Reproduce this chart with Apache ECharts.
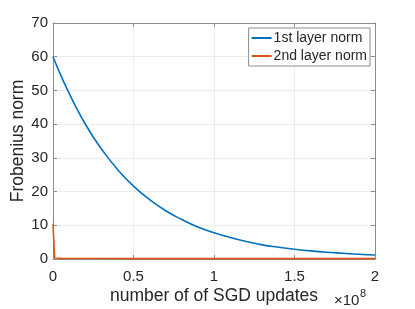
<!DOCTYPE html>
<html>
<head>
<meta charset="utf-8">
<script src="https://cdn.jsdelivr.net/npm/echarts@6/dist/echarts.min.js"></script>
<style>html,body{margin:0;padding:0;background:#fff}#c{width:415px;height:309px}</style>
</head>
<body>
<div id="c"></div>
<script>
// x in units of 1e8 SGD updates
var layer1X = [0, 0.05, 0.1, 0.15, 0.2, 0.25, 0.3, 0.4, 0.5, 0.6, 0.7, 0.8, 0.9, 1.0, 1.1, 1.2, 1.3, 1.4, 1.5, 1.6, 1.7, 1.8, 1.9, 2.0];
var layer1Y = [60, 54.3, 49.2, 44.4, 40.1, 36.2, 32.7, 26.6, 21.6, 17.6, 14.3, 11.7, 9.5, 7.8, 6.4, 5.2, 4.2, 3.5, 2.9, 2.4, 2.0, 1.7, 1.4, 1.2];
var layer2X = [0, 0.01, 0.05, 0.2, 0.5, 1.0, 1.5, 2.0];
var layer2Y = [10.5, 0.3, 0.2, 0.15, 0.12, 0.1, 0.1, 0.1];
var xTicks = [0, 0.5, 1, 1.5, 2];
var yTicks = [0, 10, 20, 30, 40, 50, 60, 70];
var seriesNames = ['1st layer norm', '2nd layer norm'];

function pairs(xs, ys) { return xs.map(function (x, i) { return [x, ys[i]]; }); }

var axisCol = '#8c8c8c';
var textCol = '#262626';
var font = 'Liberation Sans, Arial, sans-serif';
var chart = echarts.init(document.getElementById('c'));
chart.setOption({
  animation: false,
  grid: { left: 53, right: 40, top: 23, bottom: 50, containLabel: false, outerBoundsMode: 'none' },
  legend: {
    right: 45, top: 28, orient: 'vertical',
    itemWidth: 20, itemHeight: 2, itemGap: 4,
    padding: [3, 3, 3, 3],
    borderColor: '#8c8c8c', borderWidth: 1, backgroundColor: '#fff',
    icon: 'rect',
    textStyle: { fontFamily: font, fontSize: 14, color: textCol, padding: [0, 0, 0, -3] },
    data: seriesNames
  },
  xAxis: [{
    type: 'value', min: 0, max: 2, interval: 0.5,
    name: 'number of of SGD updates', nameLocation: 'middle', nameGap: 28, nameMoveOverlap: false,
    nameTextStyle: { fontFamily: font, fontSize: 17.5, color: textCol },
    axisLine: { show: true, onZero: false, lineStyle: { color: axisCol } },
    axisTick: { inside: true, length: 4, lineStyle: { color: axisCol } },
    axisLabel: { fontFamily: font, fontSize: 15, color: textCol, margin: 10,
      formatter: function (v) { return xTicks.indexOf(v) >= 0 ? String(v) : ''; } },
    splitLine: { show: true, lineStyle: { color: '#ececec' } }
  }, {
    type: 'value', position: 'top', min: 0, max: 2, interval: 0.5,
    axisLine: { show: true, onZero: false, lineStyle: { color: axisCol } },
    axisTick: { inside: true, length: 4, lineStyle: { color: axisCol } },
    axisLabel: { show: false }, splitLine: { show: false }
  }],
  yAxis: [{
    type: 'value', min: 0, max: 70, interval: 10,
    name: 'Frobenius norm', nameLocation: 'middle', nameGap: 26, nameMoveOverlap: false,
    nameTextStyle: { fontFamily: font, fontSize: 17.5, color: textCol },
    axisLine: { show: true, onZero: false, lineStyle: { color: axisCol } },
    axisTick: { show: true, inside: true, length: 4, lineStyle: { color: axisCol } },
    axisLabel: { fontFamily: font, fontSize: 15, color: textCol, margin: 5,
      formatter: function (v) { return yTicks.indexOf(v) >= 0 ? String(v) : ''; } },
    splitLine: { show: true, lineStyle: { color: '#ececec' } }
  }, {
    type: 'value', position: 'right', min: 0, max: 70, interval: 10,
    axisLine: { show: true, onZero: false, lineStyle: { color: axisCol } },
    axisTick: { show: true, inside: true, length: 4, lineStyle: { color: axisCol } },
    axisLabel: { show: false }, splitLine: { show: false }
  }],
  graphic: [{
    type: 'text', x: 334, y: 308,
    style: { text: '×10', fontFamily: font, fontSize: 15, fill: textCol, verticalAlign: 'bottom', align: 'left' }
  }, {
    type: 'text', x: 360, y: 299,
    style: { text: '8', fontFamily: font, fontSize: 11, fill: textCol, verticalAlign: 'bottom', align: 'left' }
  }],
  series: [{
    name: seriesNames[0], type: 'line', smooth: true, showSymbol: false,
    data: pairs(layer1X, layer1Y),
    lineStyle: { color: '#0072BD', width: 1.6 }, itemStyle: { color: '#0072BD' }
  }, {
    name: seriesNames[1], type: 'line', showSymbol: false,
    data: pairs(layer2X, layer2Y),
    lineStyle: { color: '#D95319', width: 1.6 }, itemStyle: { color: '#D95319' }
  }]
});
</script>
</body>
</html>
